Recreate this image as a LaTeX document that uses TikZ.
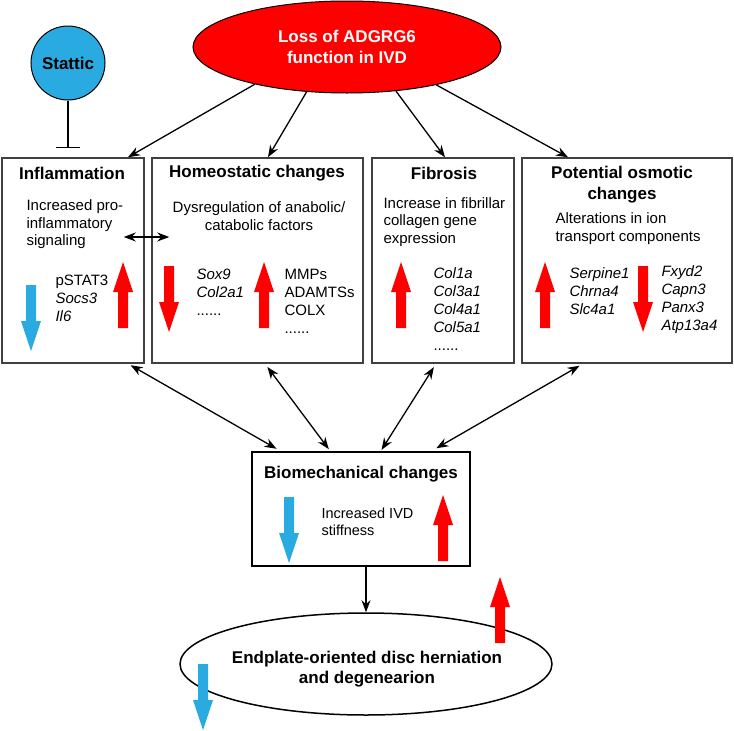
\documentclass[tikz,border=0pt]{standalone}
\usepackage{fontspec}
\setmainfont{Liberation Sans}
\usetikzlibrary{arrows.meta, positioning, calc, shapes.geometric}
\definecolor{signalred}{RGB}{255,0,0}
\definecolor{stattblue}{RGB}{41,171,226}

\begin{document}
\begin{tikzpicture}[x=1pt, y=1pt,
  box/.style={draw=black!75, line width=1.5pt, inner sep=0pt},
  head/.style={font=\fontsize{17}{21}\selectfont\bfseries, align=center},
  body/.style={font=\fontsize{15}{17.5}\selectfont, align=left, anchor=west},
  gene/.style={font=\fontsize{15}{18}\selectfont, align=left, anchor=west},
  link/.style={-{Stealth[length=12pt,width=9pt]}, line width=1.3pt},
  twoway/.style={{Stealth[length=12pt,width=9pt]}-{Stealth[length=12pt,width=9pt]}, line width=1.3pt},
  arrowup/.pic={\fill (-5,0) -- (-5,36) -- (-10,36) -- (0,66) -- (10,36) -- (5,36) -- (5,0) -- cycle;},
  arrowdown/.pic={\fill (-5,0) -- (-5,-36) -- (-10,-36) -- (0,-66) -- (10,-36) -- (5,-36) -- (5,0) -- cycle;}
]
  \useasboundingbox (0,0) rectangle (734,-731);

  % Top: cause and inhibitor
  \node[ellipse, draw, line width=1pt, fill=signalred, text=white, head,
        minimum width=308, minimum height=92, inner sep=0pt] (loss) at (347,-47)
    {Loss of ADGRG6\\function in IVD};
  \node[circle, draw, line width=1pt, fill=stattblue, head, minimum size=74,
        inner sep=0pt] (stattic) at (68,-63) {Stattic};

  % Four consequence boxes
  \node[box, minimum width=142, minimum height=205] (infl) at (73,-260.5) {};
  \node[box, minimum width=211, minimum height=205] (homeo) at (257.5,-260.5) {};
  \node[box, minimum width=142, minimum height=205] (fib) at (443,-260.5) {};
  \node[box, minimum width=210, minimum height=205] (osm) at (627,-260.5) {};

  % Inflammation
  \node[head] (inflT) at (72,-173) {Inflammation};
  \node[body] (inflD) at (23,-224.5) {Increased pro-\\inflammatory\\signaling};
  \node[gene] (inflG) at (52,-298) {pSTAT3\\\textit{Socs3}\\\textit{Il6}};

  % Homeostatic changes
  \node[head] (homeoT) at (257,-173) {Homeostatic changes};
  \node[body, anchor=center, align=center] (homeoD) at (259,-216)
    {Dysregulation of anabolic/\\catabolic factors};
  \node[gene] (homeoG1) at (193,-292) {\textit{Sox9}\\\textit{Col2a1}\\......};
  \node[gene] (homeoG2) at (281,-301) {MMPs\\ADAMTSs\\COLX\\......};

  % Fibrosis
  \node[head] (fibT) at (444,-173) {Fibrosis};
  \node[body] (fibD) at (380,-222) {Increase in fibrillar\\collagen gene\\expression};
  \node[gene] (fibG) at (430,-309)
    {\textit{Col1a}\\\textit{Col3a1}\\\textit{Col4a1}\\\textit{Col5a1}\\......};

  % Potential osmotic changes
  \node[head] (osmT) at (622,-184.5) {Potential osmotic\\changes};
  \node[body] (osmD) at (552,-228.5) {Alterations in ion\\transport components};
  \node[gene] (osmG1) at (566,-291) {\textit{Serpine1}\\\textit{Chrna4}\\\textit{Slc4a1}};
  \node[gene] (osmG2) at (658,-300) {\textit{Fxyd2}\\\textit{Capn3}\\\textit{Panx3}\\\textit{Atp13a4}};

  % Biomechanics and outcome
  \node[draw, line width=2.5pt, minimum width=218, minimum height=114, inner sep=0pt]
    (bio) at (361,-509) {};
  \node[head] (bioT) at (361,-474) {Biomechanical changes};
  \node[body, font=\fontsize{14.5}{17}\selectfont] (bioD) at (318,-521.5)
    {Increased IVD\\stiffness};
  \node[ellipse, draw, line width=1.5pt, minimum width=372, minimum height=102,
        inner sep=0pt] (endp) at (366,-664) {};
  \node[head, font=\fontsize{17}{20}\selectfont\bfseries] (endpT) at (367,-669)
    {Endplate-oriented disc herniation\\and degenearion};

  % Arrows from the cause
  \draw[link] (loss.202) -- ([xshift=55pt]infl.north);
  \draw[link] (loss.228) -- ([xshift=10.5pt]homeo.north);
  \draw[link] (loss.318) -- ([xshift=2pt]fib.north);
  \draw[link] (loss.337) -- ([xshift=-59pt]osm.north);

  % Stattic blocks inflammation
  \coordinate (stop) at ($(stattic.south |- infl.north)+(0,9)$);
  \draw[line width=1.3pt, -{Bar[width=24pt]}] (stattic) -- (stop);

  % Crosstalk
  \draw[twoway] ([shift={(-21pt,23.5pt)}]infl.east) -- ([shift={(18pt,23.5pt)}]homeo.west);
  \draw[twoway, shorten <=3pt, shorten >=4pt] ([xshift=55pt]infl.south) -- ([xshift=-81pt]bio.north);
  \draw[twoway, shorten <=4pt, shorten >=2pt] ([xshift=7.5pt]homeo.south) -- ([xshift=-31pt]bio.north);
  \draw[twoway, shorten <=4pt, shorten >=1pt] ([xshift=-7pt]fib.south) -- ([xshift=20pt]bio.north);
  \draw[twoway, shorten <=4pt, shorten >=5pt] ([xshift=-44pt]osm.south) -- ([xshift=71pt]bio.north);
  \draw[link] ([xshift=5pt]bio.south) -- (endp.north);

  % Up/down regulation arrows
  \pic[stattblue] at (31,-285) {arrowdown};
  \pic[signalred] at (123,-328) {arrowup};
  \pic[signalred] at (169,-266) {arrowdown};
  \pic[signalred] at (264,-328) {arrowup};
  \pic[signalred] at (401,-328) {arrowup};
  \pic[signalred] at (545,-328) {arrowup};
  \pic[signalred] at (643,-266) {arrowdown};
  \pic[stattblue] at (289,-497) {arrowdown};
  \pic[signalred] at (443,-561) {arrowup};
  \pic[signalred] at (500,-643) {arrowup};
  \pic[stattblue] at (203,-664) {arrowdown};
\end{tikzpicture}
\end{document}
